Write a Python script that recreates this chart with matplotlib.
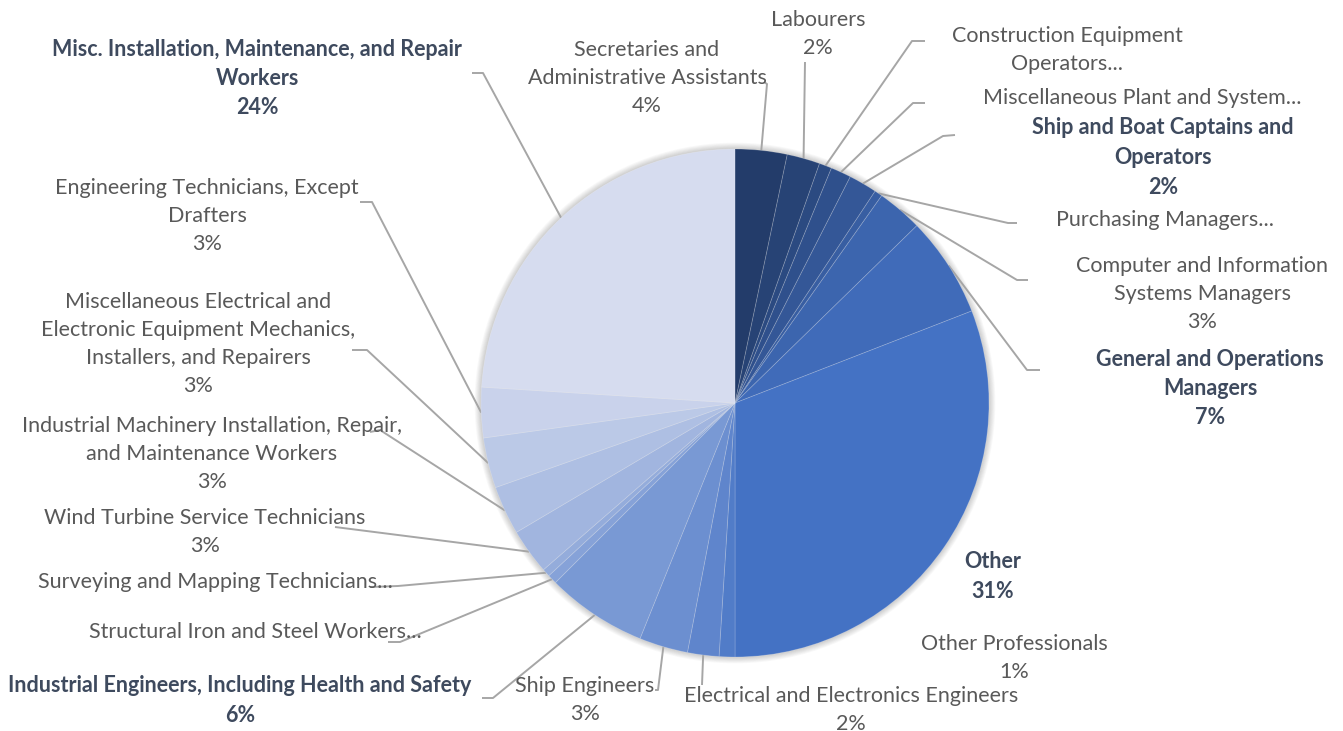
import numpy as np
import matplotlib.pyplot as plt
from matplotlib.colors import to_rgb
from matplotlib.patches import Circle

# slice data, clockwise from 12 o'clock
labels = [
    "Secretaries and\nAdministrative Assistants",
    "Labourers",
    "Construction Equipment\nOperators...",
    "Miscellaneous Plant and System...",
    "Ship and Boat Captains and\nOperators",
    "Purchasing Managers...",
    "Computer and Information\nSystems Managers",
    "General and Operations\nManagers",
    "Other",
    "Other Professionals",
    "Electrical and Electronics Engineers",
    "Ship Engineers",
    "Industrial Engineers, Including Health and Safety",
    "Structural Iron and Steel Workers...",
    "Surveying and Mapping Technicians...",
    "Wind Turbine Service Technicians",
    "Industrial Machinery Installation, Repair,\nand Maintenance Workers",
    "Miscellaneous Electrical and\nElectronic Equipment Mechanics,\nInstallers, and Repairers",
    "Engineering Technicians, Except\nDrafters",
    "Misc. Installation, Maintenance, and Repair\nWorkers",
]
shares = [3.3, 2.1, 0.8, 1.3, 1.8, 0.5, 2.9, 6.4, 30.9, 1.0, 2.0, 3.1,
          6.4, 0.6, 0.5, 2.9, 3.1, 3.2, 3.2, 24.0]
pct_text = ["4%", "2%", None, None, "2%", None, "3%", "7%", "31%", "1%", "2%", "3%",
            "6%", None, None, "3%", "3%", "3%", "3%", "24%"]
bold = [False, False, False, False, True, False, False, True, True, False, False, False,
        True, False, False, False, False, False, False, True]

W, H = 1343, 731
CX, CY, R = 735, 403, 254   # pixel coords, y down

# label layout in pixels: text centre, leader elbow, stub end (None = no leader)
layout = [
    ((647, 75), (767, 84), (764, 82)),
    ((818, 32), (805, 62), None),
    ((1067, 48), (912, 41), (925, 41)),
    ((1142, 95), (913, 103), (925, 103)),
    ((1163, 155), (943, 136), (955, 135)),
    ((1165, 218), (1008, 223), (1017, 223)),
    ((1202, 291), (1017, 280), (1028, 280)),
    ((1210, 386), (1027, 370), (1040, 370)),
    ((993, 574), None, None),
    ((1014, 655), None, None),
    ((851, 707), (702, 685), None),
    ((585, 698), (658, 690), (655, 690)),
    ((240, 698), (493, 698), (482, 698)),
    ((255, 629), (400, 642), (388, 642)),
    ((215, 580), (398, 586), (370, 587)),
    ((205, 530), (335, 527), None),
    ((212, 451), (380, 430), (370, 432)),
    ((198, 342), (367, 350), (352, 350)),
    ((207, 213), (372, 202), (360, 202)),
    ((257, 76), (483, 73), (472, 73)),
]
TEXT_DY = 2.5  # small baseline correction for the label font


def fy(y):
    return H - y


def lerp(c1, c2, t):
    a, b = np.array(to_rgb(c1)), np.array(to_rgb(c2))
    return tuple(a + (b - a) * t)


n = len(shares)
k = labels.index("Other")
colors = []
for i in range(n):
    if i <= k:
        colors.append(lerp("#233C6A", "#4472C4", i / k))
    else:
        colors.append(lerp("#4472C4", "#D6DCEF", (i - k) / (n - 1 - k)))

plt.rcParams['font.family'] = ['Lato', 'DejaVu Sans']
fig = plt.figure(figsize=(W / 100, H / 100), dpi=100)
ax = fig.add_axes([0, 0, 1, 1])

# soft shadow round the pie
for j in range(8, 0, -1):
    ax.add_patch(Circle((CX, fy(CY)), R + j * 0.8, color="#000000", alpha=0.025, lw=0, zorder=0))

wedges, _ = ax.pie(shares, colors=colors, startangle=90, counterclock=False,
                   center=(CX, fy(CY)), radius=R, normalize=True,
                   wedgeprops=dict(linewidth=0.6, edgecolor=(1, 1, 1, 0.2)))
for w in wedges:
    w.set_zorder(2)

total = sum(shares)
cum = np.cumsum([0] + shares)
for i in range(n):
    mid = np.deg2rad((cum[i] + cum[i + 1]) / 2 / total * 360)
    ex, ey = CX + R * np.sin(mid), CY - R * np.cos(mid)
    (tx, ty), elbow, stub = layout[i]
    if elbow is not None:
        xs = [ex, elbow[0]]
        ys = [ey, elbow[1]]
        if stub is not None:
            xs.append(stub[0])
            ys.append(stub[1])
        ax.plot(xs, [fy(v) for v in ys], color="#A6A6A6", lw=1.4, zorder=1,
                solid_capstyle="butt")
    txt = labels[i] if pct_text[i] is None else labels[i] + "\n" + pct_text[i]
    ax.text(tx, fy(ty + TEXT_DY), txt, ha="center", va="center", multialignment="center",
            fontsize=15.5, linespacing=1.5,
            fontweight="bold" if bold[i] else "normal",
            color="#3E4A5E" if bold[i] else "#595959", zorder=3)

ax.set_xlim(0, W)
ax.set_ylim(0, H)
ax.set_aspect("equal")
ax.axis("off")
fig.savefig("out.png", dpi=100, facecolor="white")
